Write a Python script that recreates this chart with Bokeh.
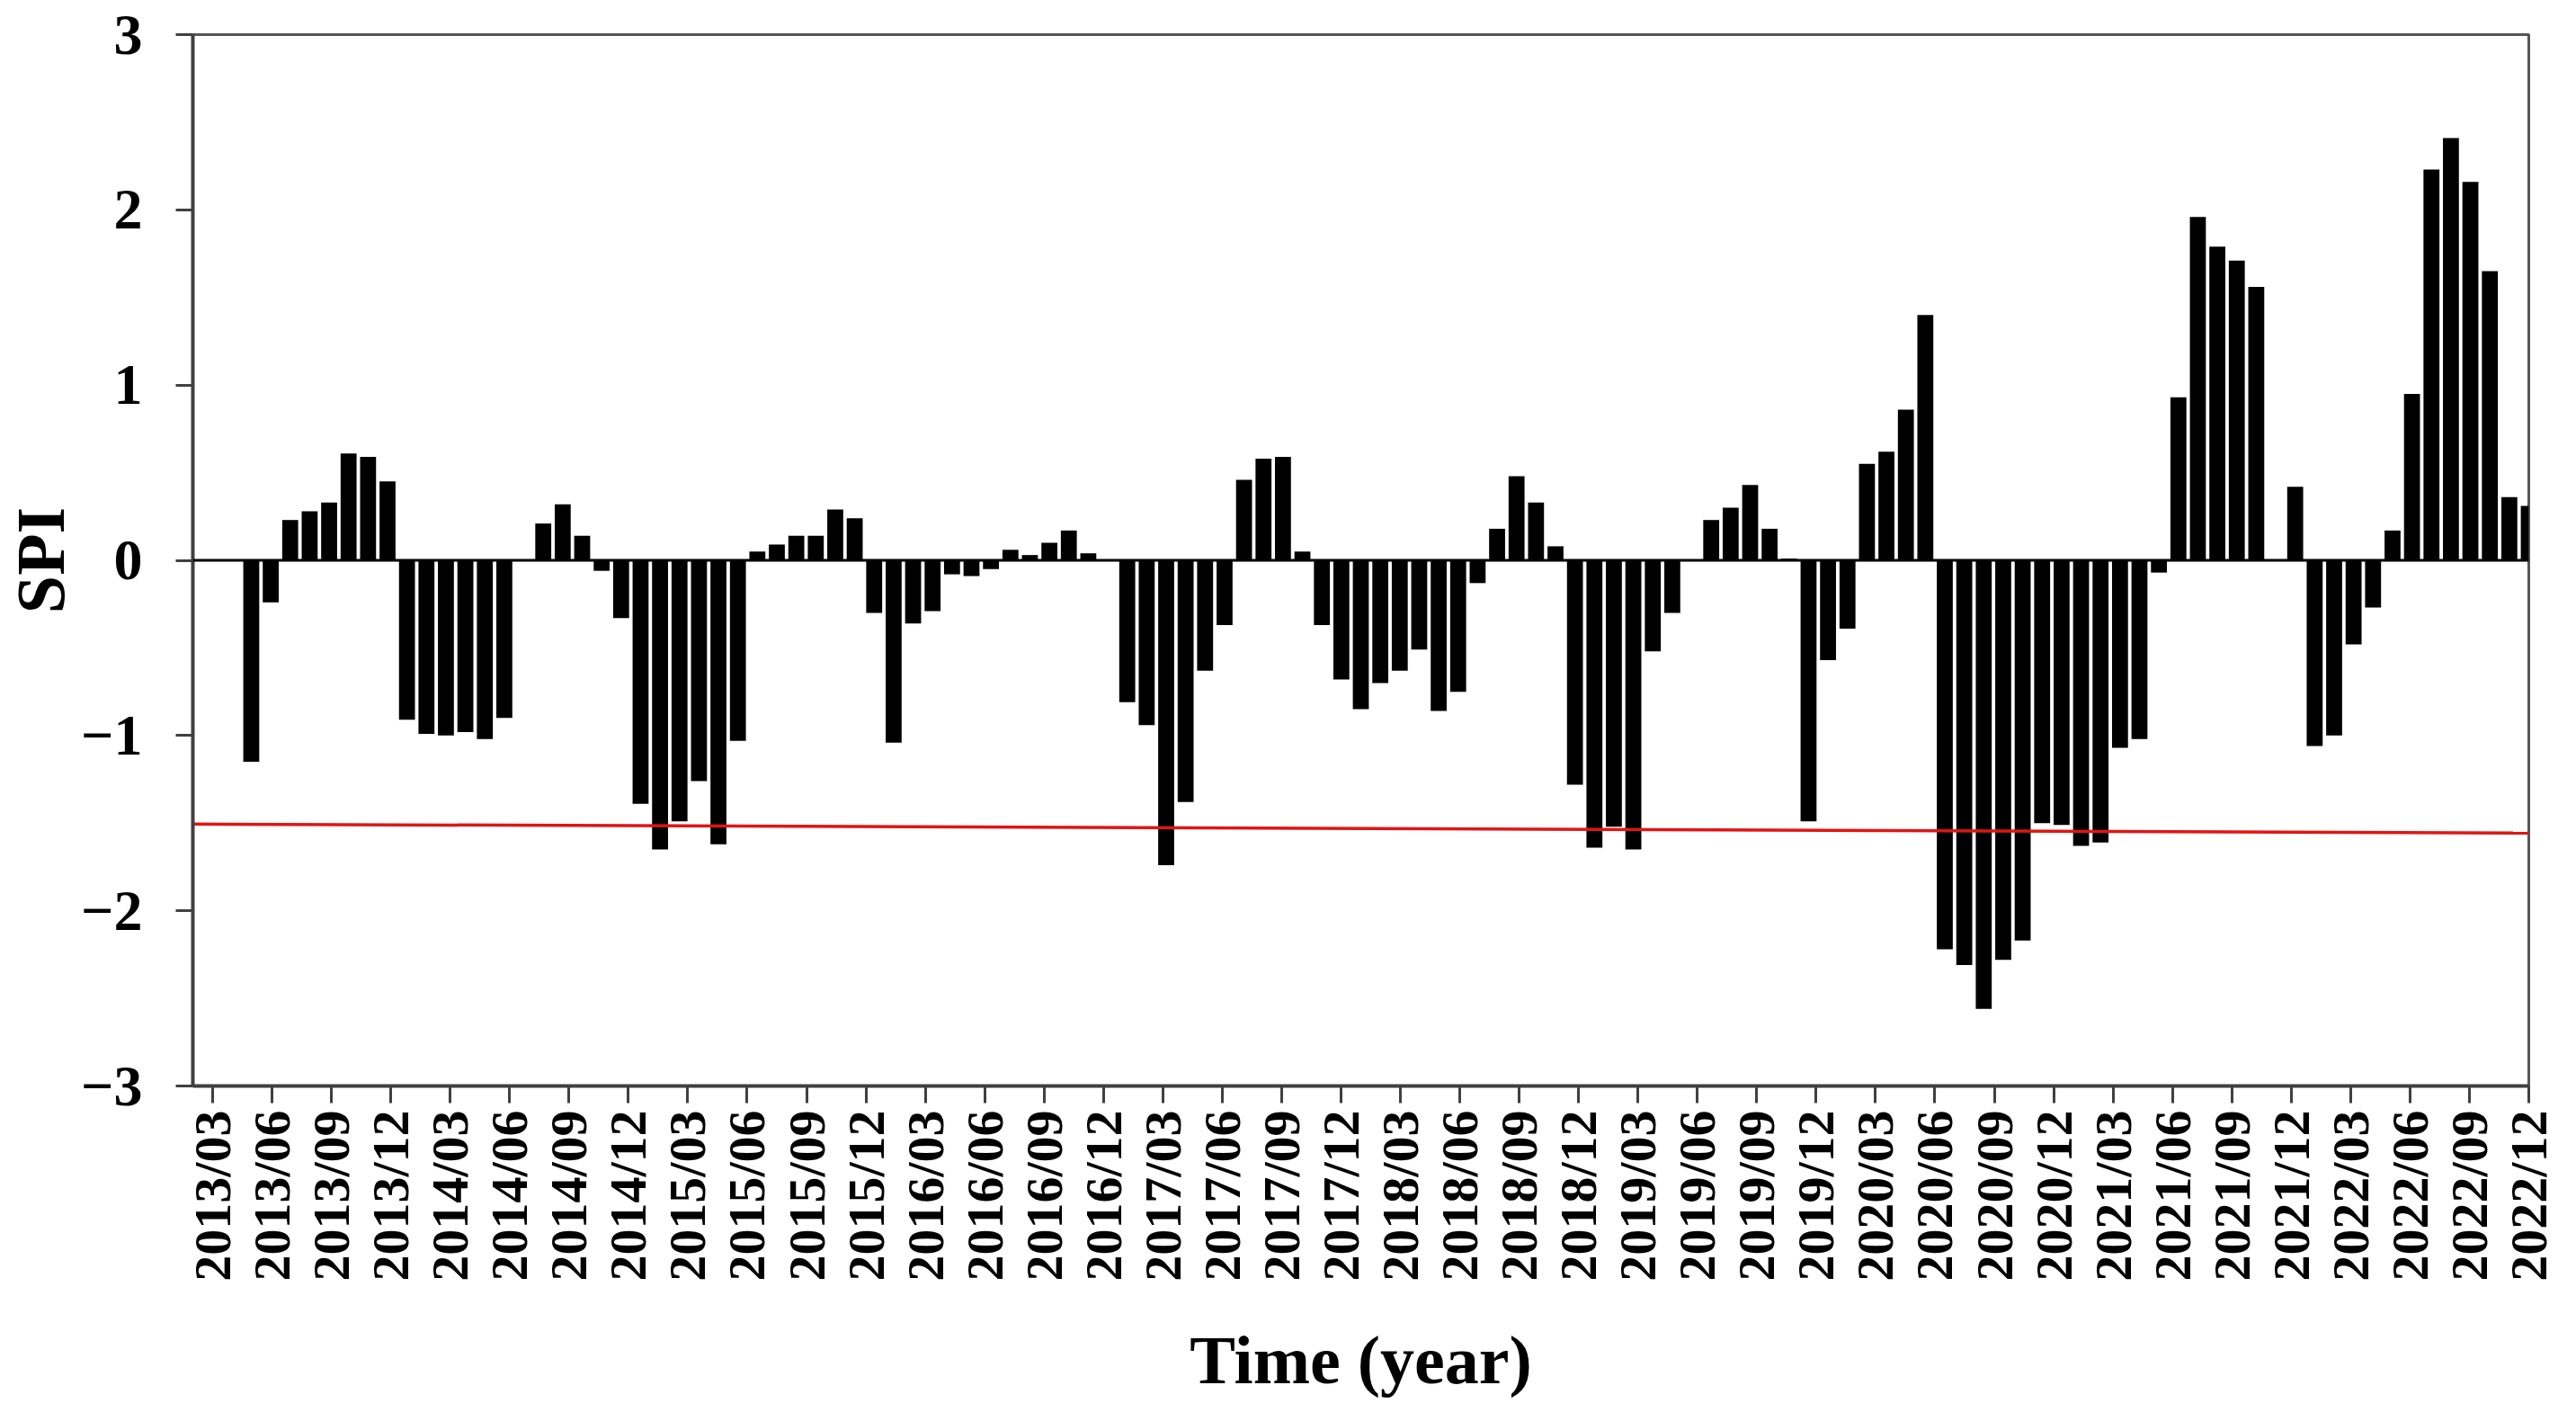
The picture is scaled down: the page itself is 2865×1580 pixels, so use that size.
import math
from bokeh.plotting import figure
from bokeh.models import FixedTicker, Span, Range1d, ColumnDataSource
from bokeh.embed import file_html
from bokeh.resources import INLINE

# ---------------- data ----------------
months = [f"{y}/{m:02d}" for y in range(2013, 2023) for m in range(1, 13)]

spi = [
    None, None, -1.15, -0.24, 0.23, 0.28, 0.33, 0.61, 0.59, 0.45, -0.91, -0.99,      # 2013
    -1.00, -0.98, -1.02, -0.90, 0.00, 0.21, 0.32, 0.14, -0.06, -0.33, -1.39, -1.65,  # 2014
    -1.49, -1.26, -1.62, -1.03, 0.05, 0.09, 0.14, 0.14, 0.29, 0.24, -0.30, -1.04,    # 2015
    -0.36, -0.29, -0.08, -0.09, -0.05, 0.06, 0.03, 0.10, 0.17, 0.04, 0.00, -0.81,    # 2016
    -0.94, -1.74, -1.38, -0.63, -0.37, 0.46, 0.58, 0.59, 0.05, -0.37, -0.68, -0.85,  # 2017
    -0.70, -0.63, -0.51, -0.86, -0.75, -0.13, 0.18, 0.48, 0.33, 0.08, -1.28, -1.64,  # 2018
    -1.52, -1.65, -0.52, -0.30, 0.00, 0.23, 0.30, 0.43, 0.18, 0.01, -1.49, -0.57,    # 2019
    -0.39, 0.55, 0.62, 0.86, 1.40, -2.22, -2.31, -2.56, -2.28, -2.17, -1.50, -1.51,  # 2020
    -1.63, -1.61, -1.07, -1.02, -0.07, 0.93, 1.96, 1.79, 1.71, 1.56, 0.00, 0.42,     # 2021
    -1.06, -1.00, -0.48, -0.27, 0.17, 0.95, 2.23, 2.41, 2.16, 1.65, 0.36, 0.31,      # 2022
]

tick_labels = [
    "2013/03", "2013/06", "2013/09", "2013/12",
    "2014/03", "2014/06", "2014/09", "2014/12",
    "2015/03", "2015/06", "2015/09", "2015/12",
    "2016/03", "2016/06", "2016/09", "2016/12",
    "2017/03", "2017/06", "2017/09", "2017/12",
    "2018/03", "2018/06", "2018/09", "2018/12",
    "2019/03", "2019/06", "2019/09", "2019/12",
    "2020/03", "2020/06", "2020/09", "2020/12",
    "2021/03", "2021/06", "2021/09", "2021/12",
    "2022/03", "2022/06", "2022/09", "2022/12",
]

y_ticks = [-3, -2, -1, 0, 1, 2, 3]
y_tick_labels = ["\u22123", "\u22122", "\u22121", "0", "1", "2", "3"]

threshold = [-1.505, -1.557]   # drought line (left end, right end)

# ---------------- layout helpers ----------------
n = len(months)
x_start, x_end = -1, n - 1
xs = [i for i, v in enumerate(spi) if v is not None]
tops = [v for v in spi if v is not None]
src = ColumnDataSource(dict(x=xs, top=tops, month=[months[i] for i in xs]))

n_lab_months = 3 * (len(tick_labels) - 1) + 1
span = x_end - x_start
tick_pos = [round(x_start + (3 * j + 1) * span / n_lab_months, 6) for j in range(len(tick_labels))]

FONT = "Liberation Serif"
AX = "#404040"

p = figure(width=2849, height=1564,
           x_range=Range1d(x_start, x_end), y_range=Range1d(-3, 3),
           output_backend="svg", toolbar_location=None,
           min_border_left=210, min_border_right=37,
           min_border_top=38, min_border_bottom=357)

p.background_fill_color = "white"
p.border_fill_color = "white"
p.xgrid.visible = False
p.ygrid.visible = False
p.outline_line_color = "#555555"
p.outline_line_width = 3

p.vbar(x="x", top="top", bottom=0, width=0.82, source=src,
       fill_color="black", line_color=None)

p.add_layout(Span(location=0, dimension="width", line_color="black", line_width=3))

p.line(x=[x_start, x_end], y=threshold, line_color="#e01515", line_width=3.5)

# x axis
xa = p.xaxis[0]
xa.ticker = FixedTicker(ticks=tick_pos, minor_ticks=[])
xa.major_label_overrides = {t: lab for t, lab in zip(tick_pos, tick_labels)}
xa.major_label_orientation = math.pi / 2
xa.major_label_text_font = FONT
xa.major_label_text_font_style = "bold"
xa.major_label_text_font_size = "58px"
xa.major_label_text_color = "black"
xa.major_label_standoff = 8
xa.axis_label = "Time (year)"
xa.axis_label_text_font = FONT
xa.axis_label_text_font_style = "bold"
xa.axis_label_text_font_size = "76px"
xa.axis_label_text_color = "black"
xa.axis_label_standoff = 42

# y axis
ya = p.yaxis[0]
ya.ticker = FixedTicker(ticks=y_ticks, minor_ticks=[])
ya.major_label_overrides = {t: lab for t, lab in zip(y_ticks, y_tick_labels)}
ya.major_label_text_font = FONT
ya.major_label_text_font_style = "bold"
ya.major_label_text_font_size = "64px"
ya.major_label_text_color = "black"
ya.major_label_standoff = 37
ya.axis_label = "SPI"
ya.axis_label_text_font = FONT
ya.axis_label_text_font_style = "bold"
ya.axis_label_text_font_size = "76px"
ya.axis_label_text_color = "black"
ya.axis_label_standoff = 0

for ax in (xa, ya):
    ax.axis_line_color = AX
    ax.axis_line_width = 4
    ax.major_tick_line_color = AX
    ax.major_tick_line_width = 3
    ax.major_tick_out = 19
    ax.major_tick_in = 0
    ax.minor_tick_line_color = None

open("out.html", "w").write(file_html(p, INLINE))
